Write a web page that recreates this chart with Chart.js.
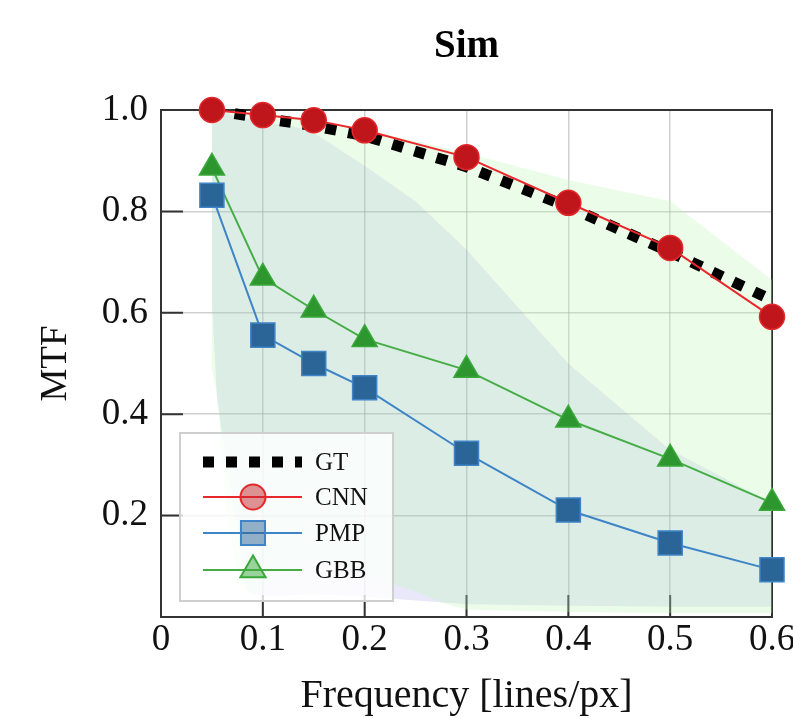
<!DOCTYPE html>
<html><head><meta charset="utf-8">
<script src="https://cdn.jsdelivr.net/npm/chart.js@4"></script>
<style>
html,body{margin:0;padding:0;overflow:hidden;background:#fff;width:793px;height:718px}
#wrap{position:absolute;left:0;top:0;width:830px;height:740px}
</style></head><body>
<div id="wrap"><canvas id="c"></canvas></div>
<script>
// ---- data ----
const freq = [0.05, 0.1, 0.15, 0.2, 0.3, 0.4, 0.5, 0.6];
const gt   = [1.0, 0.984, 0.969, 0.949, 0.888, 0.809, 0.72, 0.625];
const cnn  = [1.0, 0.990, 0.980, 0.960, 0.907, 0.817, 0.728, 0.592];
const pmp  = [0.832, 0.556, 0.50, 0.452, 0.323, 0.211, 0.146, 0.093];
const gbb  = [0.886, 0.669, 0.606, 0.548, 0.487, 0.389, 0.312, 0.225];
const xTicks = [0, 0.1, 0.2, 0.3, 0.4, 0.5, 0.6];
const yTicks = [0, 0.2, 0.4, 0.6, 0.8, 1.0];
const legendNames = ['GT', 'CNN', 'PMP', 'GBB'];

// shaded range outlines (upper edge left->right, lower edge right->left)
const gbbUpperX = [0.05, 0.1, 0.15, 0.2, 0.3, 0.4, 0.5, 0.6];
const gbbUpperY = [1.0, 0.99, 0.98, 0.962, 0.915, 0.862, 0.82, 0.665];
const gbbLowerX = [0.6, 0.5, 0.4, 0.3, 0.28, 0.25, 0.2, 0.15, 0.12, 0.09, 0.076, 0.063, 0.056, 0.05];
const gbbLowerY = [0.008, 0.008, 0.01, 0.015, 0.025, 0.05, 0.085, 0.115, 0.09, 0.04, 0.067, 0.23, 0.43, 0.49];
const pmpUpperX = [0.05, 0.1, 0.13, 0.15, 0.2, 0.25, 0.3, 0.4, 0.5, 0.6];
const pmpUpperY = [1.0, 0.976, 0.968, 0.955, 0.89, 0.82, 0.725, 0.5, 0.33, 0.225];
const pmpLowerX = [0.6, 0.5, 0.4, 0.3, 0.2, 0.15, 0.1, 0.085, 0.07, 0.055, 0.05];
const pmpLowerY = [0.02, 0.02, 0.022, 0.025, 0.04, 0.045, 0.04, 0.053, 0.23, 0.43, 0.62];

const serif = "'Liberation Serif', 'Times New Roman', Times, serif";
function pts(xs, ys) { return xs.map((x, i) => ({x: x, y: ys[i]})); }

const framePlugin = {
  id: 'frame',
  beforeDatasetsDraw(chart) {
    const {ctx, chartArea: a, scales: {x, y}} = chart;
    ctx.save();
    ctx.strokeStyle = '#333';
    ctx.lineWidth = 2;
    ctx.beginPath();
    xTicks.forEach(v => {
      if (v > x.min && v < x.max) {
        const px = x.getPixelForValue(v);
        ctx.moveTo(px, a.bottom); ctx.lineTo(px, a.bottom - 22);
      }
    });
    yTicks.forEach(v => {
      if (v > y.min && v < y.max) {
        const py = y.getPixelForValue(v);
        ctx.moveTo(a.left, py); ctx.lineTo(a.left + 22, py);
      }
    });
    ctx.stroke();
    ctx.strokeRect(a.left, a.top, a.right - a.left, a.bottom - a.top);
    ctx.restore();
  }
};

function marker(ctx, style, cx, cy, r) {
  ctx.beginPath();
  if (style === 'circle') {
    ctx.arc(cx, cy, r, 0, Math.PI * 2);
  } else if (style === 'rect') {
    const h = r * Math.SQRT1_2;
    ctx.rect(cx - h, cy - h, 2 * h, 2 * h);
  } else if (style === 'triangle') {
    for (let k = 0; k < 3; k++) {
      const ang = k * 2 * Math.PI / 3;
      const px = cx + Math.sin(ang) * r, py = cy - Math.cos(ang) * r;
      if (k === 0) ctx.moveTo(px, py); else ctx.lineTo(px, py);
    }
    ctx.closePath();
  }
}

const legendPlugin = {
  id: 'boxLegend',
  afterDatasetsDraw(chart) {
    const {ctx, chartArea: a} = chart;
    const bx = a.left + 19, by = a.bottom - 184, bw = 213, bh = 168;
    ctx.save();
    ctx.fillStyle = 'rgba(255,255,255,0.8)';
    ctx.fillRect(bx, by, bw, bh);
    ctx.strokeStyle = '#cfcfcf';
    ctx.lineWidth = 2;
    ctx.strokeRect(bx, by, bw, bh);
    const rowY = [29, 64, 100, 137];
    legendNames.forEach((name, i) => {
      const ds = chart.data.datasets[i];
      const y = by + rowY[i];
      ctx.save();
      ctx.strokeStyle = ds.borderColor;
      ctx.lineWidth = ds.borderWidth;
      ctx.setLineDash(ds.borderDash || []);
      ctx.lineCap = 'butt';
      ctx.beginPath();
      ctx.moveTo(bx + 23, y); ctx.lineTo(bx + 122, y);
      ctx.stroke();
      ctx.restore();
      if (ds.pointRadius > 0) {
        marker(ctx, ds.pointStyle || 'circle', bx + 73, y, ds.pointRadius);
        ctx.fillStyle = ds.legendFill;
        ctx.fill();
        ctx.strokeStyle = ds.pointBorderColor;
        ctx.lineWidth = 2;
        ctx.stroke();
      }
      ctx.fillStyle = '#111';
      ctx.font = '25px ' + serif;
      ctx.textAlign = 'left';
      ctx.textBaseline = 'middle';
      ctx.fillText(name, bx + 135, y + 1);
    });
    ctx.restore();
  }
};

new Chart(document.getElementById('c'), {
  type: 'scatter',
  data: {
    datasets: [
      { label: 'GT', data: pts(freq, gt), showLine: true, borderColor: '#000', borderWidth: 11,
        borderDash: [11, 12], pointRadius: 0, order: 2, clip: false },
      { label: 'CNN', data: pts(freq, cnn), showLine: true, borderColor: '#e8282c', borderWidth: 2,
        pointStyle: 'circle', pointRadius: 12.5, pointBackgroundColor: '#bf161b', pointBorderColor: '#e3282c',
        pointBorderWidth: 1.5, legendFill: 'rgba(196,40,44,0.5)', order: 1, clip: false },
      { label: 'PMP', data: pts(freq, pmp), showLine: true, borderColor: '#3f84c6', borderWidth: 2,
        pointStyle: 'rect', pointRadius: 17, pointBackgroundColor: '#2b6496', pointBorderColor: '#3f84c6',
        pointBorderWidth: 1.5, legendFill: 'rgba(43,100,150,0.5)', order: 3, clip: false },
      { label: 'GBB', data: pts(freq, gbb), showLine: true, borderColor: '#46ad46', borderWidth: 2,
        pointStyle: 'triangle', pointRadius: 14.5, pointBackgroundColor: '#2e962e', pointBorderColor: '#3aa83a',
        pointBorderWidth: 1.5, legendFill: 'rgba(60,170,60,0.5)', order: 4, clip: false },
      { label: 'GBB range', data: pts(gbbUpperX, gbbUpperY).concat(pts(gbbLowerX, gbbLowerY)),
        showLine: true, fill: 'shape', backgroundColor: 'rgba(188,248,182,0.3)', borderWidth: 0,
        borderColor: 'rgba(0,0,0,0)', pointRadius: 0, order: 5 },
      { label: 'PMP range', data: pts(pmpUpperX, pmpUpperY).concat(pts(pmpLowerX, pmpLowerY)),
        showLine: true, fill: 'shape', backgroundColor: 'rgba(0,0,200,0.09)', borderWidth: 0,
        borderColor: 'rgba(0,0,0,0)', pointRadius: 0, order: 6 }
    ]
  },
  options: {
    responsive: true,
    maintainAspectRatio: false,
    animation: false,
    events: [],
    layout: { padding: { left: 0, right: 58, top: 0, bottom: 0 } },
    plugins: {
      legend: { display: false },
      tooltip: { enabled: false },
      title: { display: true, text: 'Sim', fullSize: false, color: '#000',
        font: { family: serif, size: 39, weight: 'bold' }, padding: { top: 23.6, bottom: 39.6 } }
    },
    scales: {
      x: {
        type: 'linear', min: 0, max: 0.6,
        afterBuildTicks: s => { s.ticks = xTicks.map(v => ({value: v})); },
        afterFit: s => { s.height = 123; },
        ticks: { callback: v => (v === 0 ? '0' : v.toFixed(1)), font: { family: serif, size: 37 },
          color: '#111', padding: 1, maxRotation: 0, autoSkip: false },
        grid: { color: 'rgba(150,150,150,0.45)', lineWidth: 1.5, drawTicks: false },
        border: { display: false },
        title: { display: true, text: 'Frequency [lines/px]', color: '#111',
          font: { family: serif, size: 40 }, padding: { top: 0, bottom: 20 } }
      },
      y: {
        type: 'linear', min: 0, max: 1,
        afterBuildTicks: s => { s.ticks = yTicks.map(v => ({value: v})); },
        afterFit: s => { s.width = 161; },
        ticks: { callback: v => (v === 0 ? '' : v.toFixed(1)), font: { family: serif, size: 37 },
          color: '#111', padding: 13 },
        grid: { color: 'rgba(150,150,150,0.45)', lineWidth: 1.5, drawTicks: false },
        border: { display: false },
        title: { display: true, text: 'MTF', color: '#111',
          font: { family: serif, size: 37 }, padding: { top: 34, bottom: 0 } }
      }
    }
  },
  plugins: [framePlugin, legendPlugin]
});
</script>
</body></html>
